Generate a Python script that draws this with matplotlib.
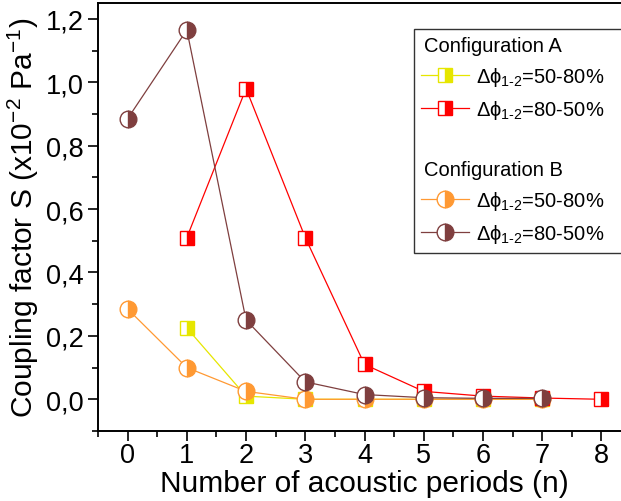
import numpy as np
import matplotlib.pyplot as plt
from matplotlib.ticker import MultipleLocator, FuncFormatter
from matplotlib.lines import Line2D

plt.rcParams['font.family'] = ['Liberation Sans', 'DejaVu Sans']
plt.rcParams['mathtext.fontset'] = 'custom'
plt.rcParams['mathtext.rm'] = 'Liberation Sans'
plt.rcParams['mathtext.it'] = 'Liberation Sans'

# ------------------------ Dados ------------------------
n_a1 = [1, 2, 3, 4, 5, 6, 7]
s_a1 = [0.225, 0.01, 0.0, 0.0, 0.0, 0.0, 0.0]          # Config A, 50-80%

n_a2 = [1, 2, 3, 4, 5, 6, 7, 8]
s_a2 = [0.51, 0.98, 0.51, 0.11, 0.025, 0.01, 0.004, 0.0]  # Config A, 80-50%

n_b1 = [0, 1, 2, 3, 4, 5, 6, 7]
s_b1 = [0.285, 0.10, 0.025, 0.0, 0.0, 0.0, 0.0, 0.0]     # Config B, 50-80%

n_b2 = [0, 1, 2, 3, 4, 5, 6, 7]
s_b2 = [0.885, 1.165, 0.25, 0.055, 0.015, 0.005, 0.003, 0.003]  # Config B, 80-50%

lab1 = r'Δϕ$_{\text{1-2}}$=50-80%'
lab2 = r'Δϕ$_{\text{1-2}}$=80-50%'

c_yel = '#E6E600'
c_red = '#FF0000'
c_org = '#FF9933'
c_brn = '#7F3F3F'

# ------------------------ Figura ------------------------
fig = plt.figure(figsize=(6.21, 5.02), dpi=100)
ax = fig.add_axes([98/621, (502-432)/502, (631-98)/621, (432-4)/502])

def serie(x, y, cor, mk, ms, z):
    ax.plot(x, y, color=cor, linewidth=0.9, marker=mk, markersize=ms,
            fillstyle='right', markerfacecolor=cor, markerfacecoloralt='white',
            markeredgecolor=cor, markeredgewidth=1.0, zorder=z)

serie(n_a1, s_a1, c_yel, 's', 10, 2)
serie(n_b1, s_b1, c_org, 'o', 12, 3)
serie(n_a2, s_a2, c_red, 's', 10, 4)
serie(n_b2, s_b2, c_brn, 'o', 12, 5)

ax.set_xlim(-0.5, 8.5)
ax.set_ylim(-0.1, 1.25)
ax.xaxis.set_major_locator(MultipleLocator(1))
ax.xaxis.set_minor_locator(MultipleLocator(0.5))
ax.yaxis.set_major_locator(MultipleLocator(0.2))
ax.yaxis.set_minor_locator(MultipleLocator(0.1))
ax.yaxis.set_major_formatter(FuncFormatter(lambda v, p: f'{v:.1f}'.replace('.', ',').replace('-0,0', '0,0')))

ax.tick_params(which='major', direction='out', length=7, width=1.2, labelsize=19.5, top=False, right=False, pad=3)
ax.tick_params(axis='x', which='major', pad=1)
ax.tick_params(which='minor', direction='out', length=4, width=1.2, top=False, right=False)
for s in ax.spines.values():
    s.set_linewidth(1.4)

ax.set_xlabel('Number of acoustic periods (n)', fontsize=21.5, labelpad=1)
ax.set_ylabel(r'Coupling factor S (x10$^{-2}$ Pa$^{-1}$)', fontsize=21.5, labelpad=4)

# ------------------------ Legenda ------------------------
def h(cor, mk, ms):
    return Line2D([], [], color=cor, linewidth=0.9, marker=mk, markersize=ms,
                  fillstyle='right', markerfacecolor=cor, markerfacecoloralt='white',
                  markeredgecolor=cor)

vazio = Line2D([], [], linestyle='none', marker='none')
handles = [vazio, h(c_yel, 's', 10), h(c_red, 's', 10), vazio, vazio,
           h(c_org, 'o', 12), h(c_brn, 'o', 12)]
labels = ['Configuration A', lab1, lab2, '', 'Configuration B', lab1, lab2]
leg = fig.legend(handles, labels, loc='upper left', bbox_to_anchor=(414/621, 1 - 30/502),
                 fontsize=14.5, frameon=True, fancybox=False, edgecolor='black',
                 handlelength=2.4, handletextpad=0.35, borderpad=0.35, labelspacing=0.5,
                 borderaxespad=0)
leg.get_frame().set_linewidth(1.0)
for t, hd in zip(leg.get_texts(), handles):
    if hd is vazio:
        t.set_position((-52, 0))

fig.savefig('out.png', dpi=100)
